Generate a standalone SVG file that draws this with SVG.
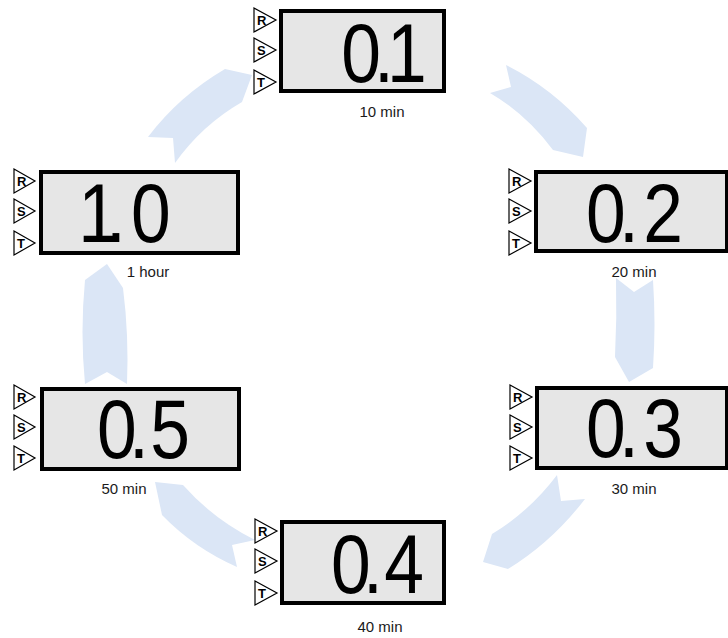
<svg xmlns="http://www.w3.org/2000/svg" width="728" height="638" viewBox="0 0 728 638">
<style>
.arr{fill:#dbe6f6;stroke:none}
.box{fill:#e6e6e6;stroke:#000;stroke-width:4}
.tri{fill:#fff;stroke:#000;stroke-width:1.2}
.tl{font-family:"Liberation Sans",Arial,sans-serif;font-weight:bold;font-size:13px;fill:#000}
.dig{font-family:"Liberation Sans",Arial,sans-serif;font-size:84px;text-anchor:middle;fill:#000}
.lbl{font-family:"Liberation Sans",Arial,sans-serif;font-size:15px;text-anchor:middle;fill:#1a1a1a}
</style>
<rect width="728" height="638" fill="#fff"/>
<g id="connectors">
<path class="arr" d="M148,137 Q179,96 225,69 L252,75 L242,102 Q202,125 175,163 L173,138 Z"/>
<path class="arr" d="M506,65 Q552,88 587,128 L583,157 L553,150 Q526,114 490,93 L511,87 Z"/>
<path class="arr" d="M616,278 L634,292 L653,280 Q656,325 653,368 L629,382 L615,357 Q617,318 616,278 Z"/>
<path class="arr" d="M557,475 L561,501 L585,499 Q552,542 508,569 L483,562 L492,534 Q530,511 557,475 Z"/>
<path class="arr" d="M255,540 L232,545 L237,567 Q194,548 162,515 L155,482 L183,485 Q213,519 255,540 Z"/>
<path class="arr" d="M85,384 Q80,332 85,280 L107,264 L123,288 Q129,335 127,384 L107,372 Z"/>
</g>
<g id="node-10min">
<rect class="box" x="281" y="11" width="163" height="80"/>
<polygon class="tri" points="254,8 276,20 254,32"/><text class="tl" x="257" y="25">R</text>
<polygon class="tri" points="254,38 276,50 254,62"/><text class="tl" x="257" y="55">S</text>
<polygon class="tri" points="254,70 276,82 254,94"/><text class="tl" x="257" y="87">T</text>
<text class="dig" transform="scale(0.85,1)" x="424.7 451.8 478.8" y="82">0.1</text>
<text class="lbl" x="382" y="117">10 min</text>
</g>
<g id="node-20min">
<rect class="box" x="536" y="172" width="191" height="79"/>
<polygon class="tri" points="509,169 531,181 509,193"/><text class="tl" x="512" y="186">R</text>
<polygon class="tri" points="509,199 531,211 509,223"/><text class="tl" x="512" y="216">S</text>
<polygon class="tri" points="509,231 531,243 509,255"/><text class="tl" x="512" y="248">T</text>
<text class="dig" transform="scale(0.85,1)" x="712.9 740 780" y="242">0.2</text>
<text class="lbl" x="634" y="277">20 min</text>
</g>
<g id="node-1hour">
<rect class="box" x="41" y="172" width="197" height="81"/>
<polygon class="tri" points="14,169 35,181 14,193"/><text class="tl" x="17" y="186">R</text>
<polygon class="tri" points="14,199 35,211 14,223"/><text class="tl" x="17" y="216">S</text>
<polygon class="tri" points="14,231 35,243 14,255"/><text class="tl" x="17" y="248">T</text>
<text class="dig" transform="scale(0.85,1)" x="115.3 136.5 177.6" y="242">1.0</text>
<text class="lbl" x="148" y="277">1 hour</text>
</g>
<g id="node-50min">
<rect class="box" x="42" y="389" width="197" height="80"/>
<polygon class="tri" points="14,385 35,397 14,409"/><text class="tl" x="17" y="402">R</text>
<polygon class="tri" points="14,415 35,427 14,439"/><text class="tl" x="17" y="432">S</text>
<polygon class="tri" points="14,446 35,458 14,470"/><text class="tl" x="17" y="463">T</text>
<text class="dig" transform="scale(0.85,1)" x="137.6 163.5 200" y="458">0.5</text>
<text class="lbl" x="124" y="494">50 min</text>
</g>
<g id="node-30min">
<rect class="box" x="537" y="388" width="190" height="80"/>
<polygon class="tri" points="510,385 532,397 510,409"/><text class="tl" x="513" y="402">R</text>
<polygon class="tri" points="510,415 532,427 510,439"/><text class="tl" x="513" y="432">S</text>
<polygon class="tri" points="510,446 532,458 510,470"/><text class="tl" x="513" y="463">T</text>
<text class="dig" transform="scale(0.85,1)" x="712.9 740 780" y="457">0.3</text>
<text class="lbl" x="634" y="494">30 min</text>
</g>
<g id="node-40min">
<rect class="box" x="282" y="522" width="162" height="81"/>
<polygon class="tri" points="255,519 277,531 255,543"/><text class="tl" x="258" y="536">R</text>
<polygon class="tri" points="255,549 277,561 255,573"/><text class="tl" x="258" y="566">S</text>
<polygon class="tri" points="255,581 277,593 255,605"/><text class="tl" x="258" y="598">T</text>
<text class="dig" transform="scale(0.85,1)" x="412.9 438.8 475.3" y="593">0.4</text>
<text class="lbl" x="380" y="632">40 min</text>
</g>
</svg>
